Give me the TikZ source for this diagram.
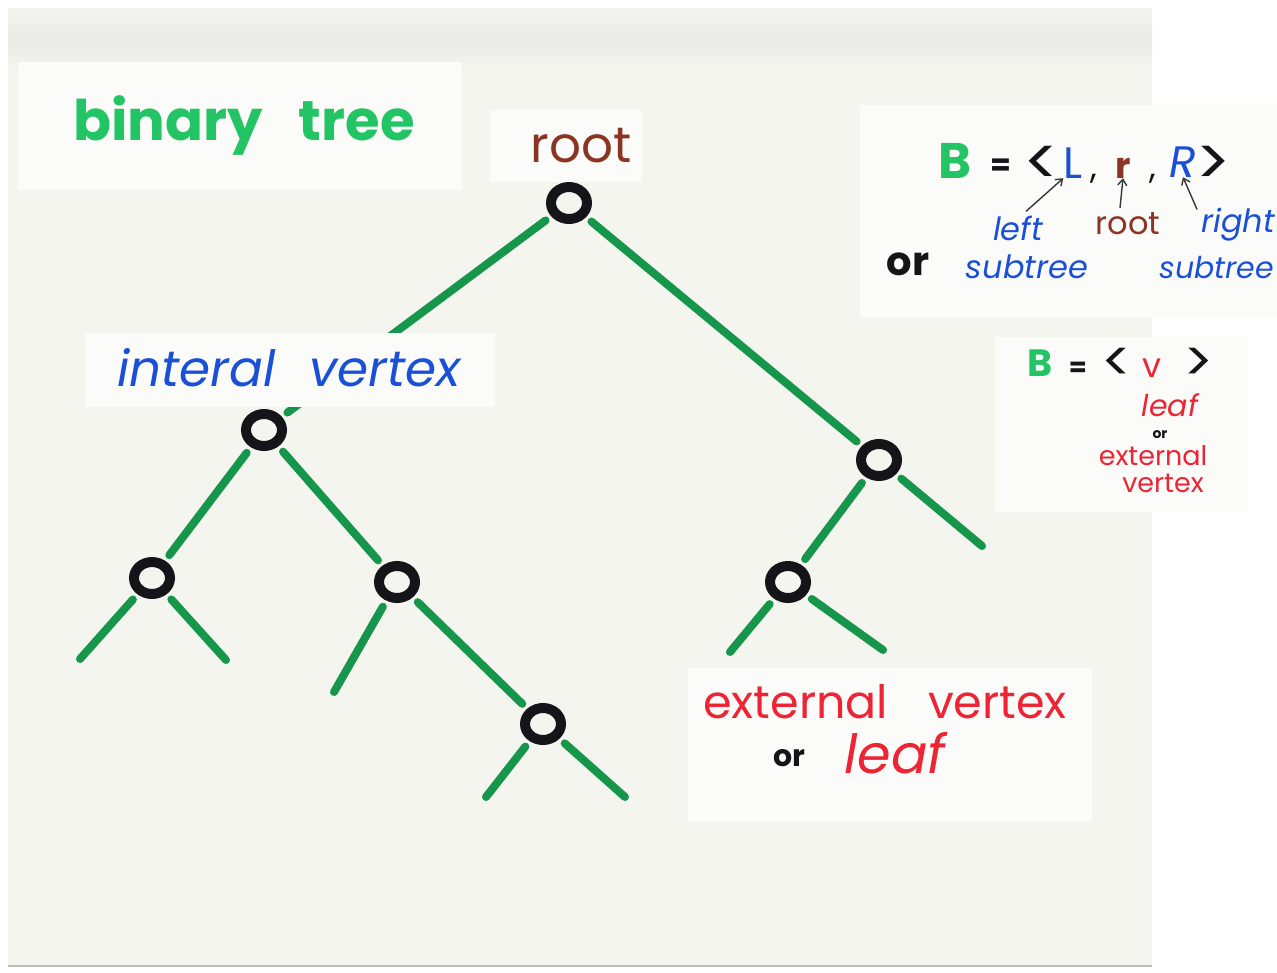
\documentclass[tikz,border=0pt]{standalone}
\usepackage{fontspec}
\setmainfont{Poppins}
\usetikzlibrary{shapes.geometric,arrows.meta}

\definecolor{paper}{RGB}{245,245,240}
\definecolor{patch}{RGB}{251,251,249}
\definecolor{shadow}{RGB}{233,233,229}
\definecolor{edgegreen}{RGB}{22,150,75}
\definecolor{titlegreen}{RGB}{34,196,100}
\definecolor{inkblue}{RGB}{25,80,215}
\definecolor{inkbrown}{RGB}{140,52,36}
\definecolor{inkred}{RGB}{236,36,52}
\definecolor{ink}{RGB}{20,20,25}

\tikzset{
  vertex/.style={ellipse, draw=ink, line width=10pt, minimum width=36pt,
    minimum height=32pt, inner sep=0pt, outer sep=0pt},
  branch/.style={draw=edgegreen, line width=8pt, line cap=round, shorten <=12pt},
  inner/.style={branch, shorten >=12pt},
  patchbox/.style={fill=patch, draw=none},
  word/.style={inner sep=0pt, anchor=base},
  pointer/.style={draw=ink!85, line width=1.4pt, -{Straight Barb[length=6pt,width=9pt]}}
}

\begin{document}
\begin{tikzpicture}[x=1pt, y=-1pt]
  \useasboundingbox (0,0) rectangle (1277,972);
  \clip (0,0) rectangle (1277,972);
  \fill[white] (0,0) rectangle (1277,972);

  % the sheet of paper with its shaded top edge
  \fill[paper] (8,8) rectangle (1152,966);
  \shade[top color=paper, bottom color=paper, middle color=shadow] (8,8) rectangle (1152,70);
  \draw[gray!55, line width=1.5pt] (8,966) -- (1152,966);

  % lighter pasted strips behind the labels
  \fill[patchbox] (18,62) rectangle (462,190);
  \fill[patchbox] (490,110) rectangle (642,182);
  \fill[patchbox] (860,105) rectangle (1277,318);
  \fill[patchbox] (995,337) rectangle (1248,512);
  \fill[patchbox] (688,668) rectangle (1092,822);

  % vertices of the tree
  \node[vertex] (R) at (569,203) {};
  \node[vertex] (A) at (264,430) {};
  \node[vertex] (B) at (879,460) {};
  \node[vertex] (C) at (152,578) {};
  \node[vertex] (D) at (397,582) {};
  \node[vertex] (E) at (543,724) {};
  \node[vertex] (F) at (788,582) {};

  % free ends of the leaf edges
  \coordinate (c1) at (80,659);
  \coordinate (c2) at (226,660);
  \coordinate (d1) at (334,692);
  \coordinate (e1) at (486,797);
  \coordinate (e2) at (625,797);
  \coordinate (b2) at (982,546);
  \coordinate (f1) at (730,652);
  \coordinate (f2) at (883,650);

  % edges
  \draw[inner] (R) -- (A);
  \draw[inner] (R) -- (B);
  \draw[inner] (A) -- (C);
  \draw[inner] (A) -- (D);
  \draw[inner] (D) -- (E);
  \draw[inner] (B) -- (F);
  \draw[branch] (C) -- (c1);
  \draw[branch] (C) -- (c2);
  \draw[branch] (D) -- (d1);
  \draw[branch] (E) -- (e1);
  \draw[branch] (E) -- (e2);
  \draw[branch] (B) -- (b2);
  \draw[branch] (F) -- (f1);
  \draw[branch] (F) -- (f2);

  % strip pasted over the left edge
  \fill[patchbox] (85,333) rectangle (495,407);

  % labels on the tree
  \node[word, text=titlegreen, font=\bfseries\fontsize{56}{60}\selectfont] (title) at (244,140) {binary\hspace{36pt}tree};
  \node[word, text=inkbrown, font=\fontsize{50}{52}\selectfont] (rootlbl) at (581,162) {root};
  \node[word, text=inkblue, font=\itshape\fontsize{50}{52}\selectfont] (intlbl) at (289,386) {interal\hspace{34pt}vertex};
  \node[word, text=inkred, font=\fontsize{46}{48}\selectfont] (extlbl) at (885,718) {external\hspace{40pt}vertex};
  \node[word, text=ink, font=\bfseries\fontsize{30}{32}\selectfont] (orlbl) at (789,766) {or};
  \node[word, text=inkred, font=\itshape\fontsize{54}{56}\selectfont] (leaflbl) at (895,773) {leaf};

  % B = <L, r, R>
  \node[word, text=titlegreen, font=\bfseries\fontsize{50}{52}\selectfont] (B1) at (955,178) {B};
  \node[word, text=ink, font=\bfseries\fontsize{30}{32}\selectfont] (eq1) at (1001,175) {=};
  \node[word, text=ink, font=\fontsize{66}{68}\selectfont] (lt1) at (1042,185) {<};
  \node[word, text=inkblue, font=\fontsize{44}{46}\selectfont] (L) at (1073,178) {L};
  \node[word, text=ink, font=\fontsize{34}{36}\selectfont] (cm1) at (1094,178) {,};
  \node[word, text=inkbrown, font=\bfseries\fontsize{36}{38}\selectfont] (r) at (1123,178) {r};
  \node[word, text=ink, font=\fontsize{34}{36}\selectfont] (cm2) at (1153,178) {,};
  \node[word, text=inkblue, font=\itshape\fontsize{44}{46}\selectfont] (Rt) at (1183,177) {R};
  \node[word, text=ink, font=\fontsize{66}{68}\selectfont] (gt1) at (1213,185) {>};

  \node[word, text=inkblue, font=\itshape\fontsize{32}{34}\selectfont] (lft) at (1018,240) {left};
  \node[word, text=inkbrown, font=\fontsize{32}{34}\selectfont] (rootw) at (1128,234) {root};
  \node[word, text=inkblue, font=\itshape\fontsize{32}{34}\selectfont, anchor=base east] (rgt) at (1275,232) {right};
  \node[word, text=inkblue, font=\itshape\fontsize{30}{32}\selectfont, anchor=base east] (sub2) at (1274,278) {subtree};
  \node[word, text=inkblue, font=\itshape\fontsize{32}{34}\selectfont] (sub1) at (1027,278) {subtree};
  \node[word, text=ink, font=\bfseries\fontsize{40}{42}\selectfont] (or2) at (908,275) {or};

  \draw[pointer] (lft.north) ++(8,-4) coordinate (p1) -- (L.south west);
  \draw[pointer] (rootw.north) ++(-8,-4) coordinate (p2) -- (r.south);
  \draw[pointer] (rgt.north west) ++(-4,2) coordinate (p3) -- (Rt.south);

  % B = <v>
  \node[word, text=titlegreen, font=\bfseries\fontsize{38}{40}\selectfont] (B2) at (1040,376) {B};
  \node[word, text=ink, font=\bfseries\fontsize{26}{28}\selectfont] (eq2) at (1078,376) {=};
  \node[word, text=ink, font=\fontsize{56}{58}\selectfont] (lt2) at (1117,381) {<};
  \node[word, text=inkred, font=\fontsize{34}{36}\selectfont] (v) at (1152,377) {v};
  \node[word, text=ink, font=\fontsize{56}{58}\selectfont] (gt2) at (1199,381) {>};
  \node[word, text=inkred, font=\itshape\fontsize{30}{32}\selectfont] (leaf2) at (1170,416) {leaf};
  \node[word, text=ink, font=\bfseries\fontsize{14}{16}\selectfont] (or3) at (1160,438) {or};
  \node[word, text=inkred, font=\fontsize{27}{29}\selectfont] (ext2) at (1153,465) {external};
  \node[word, text=inkred, font=\fontsize{27}{29}\selectfont] (vtx2) at (1163,492) {vertex};
\end{tikzpicture}
\end{document}
